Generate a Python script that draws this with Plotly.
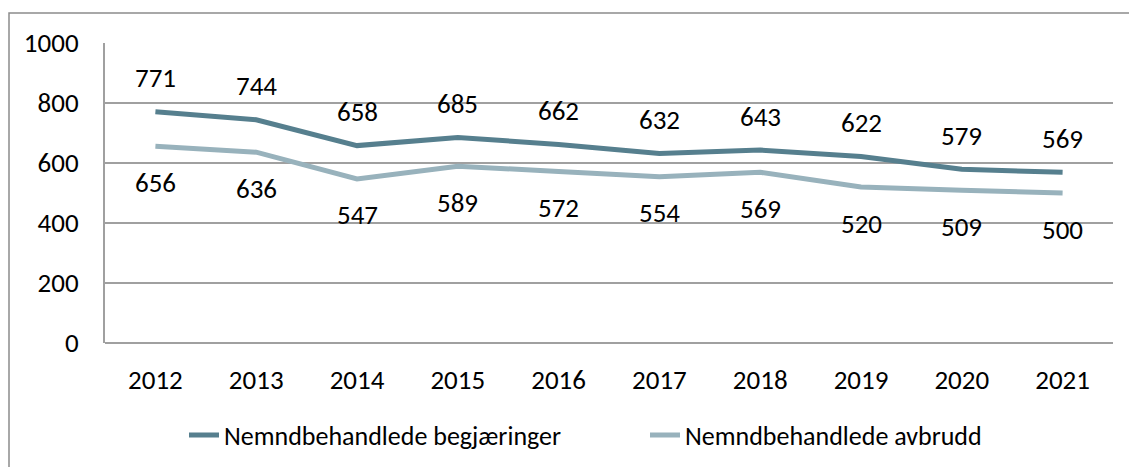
import plotly.graph_objects as go

years = ["2012", "2013", "2014", "2015", "2016", "2017", "2018", "2019", "2020", "2021"]
begjaeringer = [771, 744, 658, 685, 662, 632, 643, 622, 579, 569]
avbrudd = [656, 636, 547, 589, 572, 554, 569, 520, 509, 500]
y_ticks = [0, 200, 400, 600, 800, 1000]

name_a = "Nemndbehandlede begjæringer"
name_b = "Nemndbehandlede avbrudd"

col_a = "#567f8e"
col_b = "#98b2bc"
grid = "#a0a0a0"
FONT = "Carlito, Calibri, Lato, sans-serif"
FS = 26
FSD = 27

fig = go.Figure()
fig.add_trace(go.Scatter(x=years, y=begjaeringer, mode="lines", name=name_a,
                         line=dict(color=col_a, width=5), legend="legend"))
fig.add_trace(go.Scatter(x=years, y=avbrudd, mode="lines", name=name_b,
                         line=dict(color=col_b, width=5), legend="legend2"))

annotations = []
for i, v in enumerate(begjaeringer):
    annotations.append(dict(x=i, y=v, xref="x", yref="y", text=str(v), showarrow=False, yshift=34,
                            font=dict(size=FSD, color="#000000", family=FONT)))
for i, v in enumerate(avbrudd):
    annotations.append(dict(x=i, y=v, xref="x", yref="y", text=str(v), showarrow=False, yshift=-36,
                            font=dict(size=FSD, color="#000000", family=FONT)))

# page body adds an 8px offset; layout below is in figure pixels
L, R, T, B = 97, 24, 35, 124
W, H = 1129, 459
pw, ph = W - L - R, H - T - B
y0px = T + ph  # bottom of plot area in figure pixels

leg_common = dict(orientation="h", xanchor="left", yanchor="middle", y=(y0px - 427) / ph,
                  font=dict(size=FS, family=FONT), itemwidth=30, bgcolor="rgba(0,0,0,0)")

fig.update_layout(
    width=W, height=H,
    margin=dict(l=L, r=R, t=T, b=B, autoexpand=False),
    paper_bgcolor="white", plot_bgcolor="white",
    font=dict(family=FONT, size=FS, color="#000000"),
    annotations=annotations,
    showlegend=True,
    legend=dict(x=(176 - L) / pw, **leg_common),
    legend2=dict(x=(637 - L) / pw, **leg_common),
    shapes=[dict(type="rect", xref="paper", yref="paper",
                 x0=(1 - L) / pw, x1=1.2, y0=-0.6, y1=(y0px - 5) / ph,
                 line=dict(color="#8c8c8c", width=1.5), layer="below")],
)
fig.update_xaxes(type="category", range=[-0.5, 9.5], autorange=False, showgrid=False, showline=False,
                 ticks="", tickfont=dict(size=FSD, family=FONT), ticklabelstandoff=18, automargin=False)
fig.update_yaxes(range=[0, 1000], autorange=False, tickvals=y_ticks, showgrid=True, gridcolor=grid,
                 gridwidth=2, zeroline=True, zerolinecolor=grid, zerolinewidth=2,
                 showline=True, linecolor=grid, linewidth=2, automargin=False,
                 ticks="", tickfont=dict(size=FSD, family=FONT), ticklabelstandoff=19)

fig.write_html("out.html")
